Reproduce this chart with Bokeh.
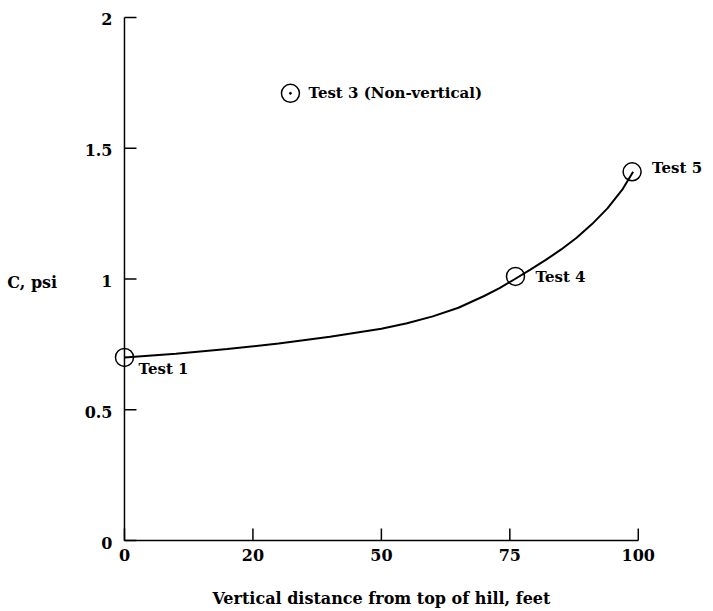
import math
from bokeh.plotting import figure
from bokeh.models import Range1d, Label
from bokeh.core.properties import value
from bokeh.embed import file_html
from bokeh.resources import INLINE

# ---- data ----
curve_x = [0, 10, 20, 30, 40, 50, 55, 60, 65, 70, 73, 76, 79, 82, 85, 88, 91, 94, 97, 99]
curve_y = [0.70, 0.714, 0.732, 0.753, 0.779, 0.81, 0.831, 0.857, 0.89, 0.935, 0.965, 1.0,
           1.036, 1.073, 1.113, 1.158, 1.21, 1.27, 1.345, 1.41]

test_names = ["Test 1", "Test 3 (Non-vertical)", "Test 4", "Test 5"]
test_x = [0, 32.3, 76.1, 98.8]
test_y = [0.70, 1.71, 1.01, 1.41]

x_ticks = [0, 25, 50, 75, 100]
x_tick_labels = ["0", "20", "50", "75", "100"]
y_ticks = [0, 0.5, 1, 1.5, 2]
y_tick_labels = ["0", "0.5", "1", "1.5", "2"]

x_title = "Vertical distance from top of hill, feet"
y_title = "C,  psi"

FONT = "DejaVu Serif"
FS = "15px"

p = figure(width=713, height=611, output_backend="svg", toolbar_location=None,
           x_range=Range1d(-24.13, 114.64), y_range=Range1d(-0.2715, 2.065),
           x_axis_type=None, y_axis_type=None,
           min_border_left=0, min_border_right=0, min_border_top=0, min_border_bottom=0)
p.grid.visible = False
p.outline_line_color = None
p.background_fill_color = "white"
p.border_fill_color = "white"

# axes drawn from the tick arrays
p.segment(x0=[x_ticks[0], 0], y0=[0, y_ticks[0]], x1=[x_ticks[-1], 0], y1=[0, y_ticks[-1]],
          line_color="black", line_width=1.5)
p.ray(x=x_ticks, y=[0] * len(x_ticks), length=12, length_units="screen",
      angle=math.pi / 2, line_color="black", line_width=1.5)
p.ray(x=[0] * len(y_ticks), y=y_ticks, length=12, length_units="screen",
      angle=0, line_color="black", line_width=1.5)
p.text(x=x_ticks, y=[0] * len(x_ticks), text=x_tick_labels, y_offset=8,
       text_font=value(FONT), text_font_size=value("16px"), text_font_style="bold",
       text_align="center", text_baseline="top", text_color="black")
p.text(x=[0] * len(y_ticks), y=y_ticks, text=y_tick_labels, x_offset=-12, y_offset=2,
       text_font=value(FONT), text_font_size=value("16px"), text_font_style="bold",
       text_align="right", text_baseline="middle", text_color="black")

# curve
p.line(curve_x, curve_y, line_color="black", line_width=2)

# test points
p.scatter(test_x, test_y, marker="circle", size=18, fill_color=None,
          line_color="black", line_width=1.5)
p.scatter([test_x[1]], [test_y[1]], marker="circle", size=2, fill_color="black", line_color="black")

# point labels
offsets = [(14, -12), (18, 0), (20, -1), (20, 4)]
for name, x, y, (dx, dy) in zip(test_names, test_x, test_y, offsets):
    p.add_layout(Label(x=x, y=y, x_offset=dx, y_offset=dy, text=name,
                       text_font=FONT, text_font_size=FS, text_font_style="bold",
                       text_baseline="middle", text_align="left", text_color="black"))

# axis titles
p.add_layout(Label(x=-22.8, y=0.987, text=y_title, text_font=FONT, text_font_size="16px",
                   text_font_style="bold", text_baseline="middle", text_align="left",
                   text_color="black"))
p.add_layout(Label(x=50, y=-0.222, text=x_title, text_font=FONT, text_font_size="16px",
                   text_font_style="bold", text_baseline="middle", text_align="center",
                   text_color="black"))

open("out.html", "w").write(file_html(p, INLINE))
